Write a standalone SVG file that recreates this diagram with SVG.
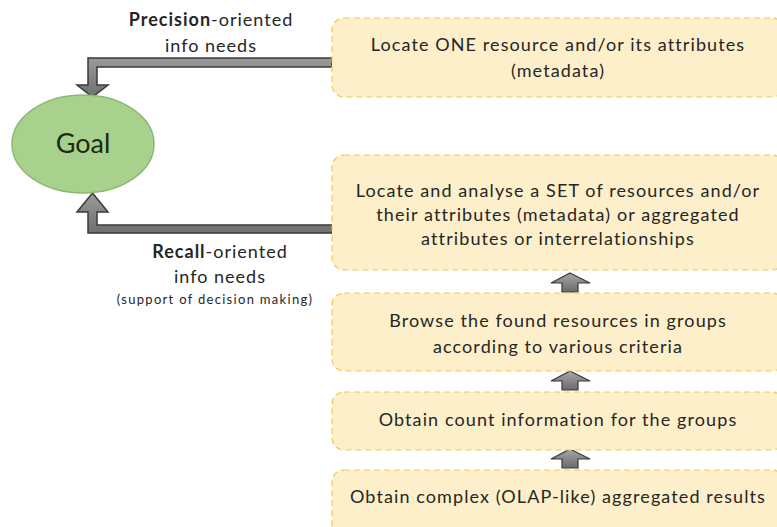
<svg xmlns="http://www.w3.org/2000/svg" width="777" height="527" viewBox="0 0 777 527">
  <style>
    .box { fill: #FDEFC9; stroke: #EFC85A; stroke-width: 1.2; stroke-dasharray: 6 4; }
    .txt { font-family: Lato, "Liberation Sans", sans-serif; font-size: 18px; letter-spacing: 1.1px; fill: #262626; text-anchor: middle; }
    .lbl { font-family: Lato, "Liberation Sans", sans-serif; font-size: 18px; letter-spacing: 1px; fill: #262626; text-anchor: middle; }
    .small { font-family: Lato, "Liberation Sans", sans-serif; font-size: 13px; letter-spacing: 1.3px; fill: #262626; text-anchor: middle; }
    .bent { fill: url(#gray); stroke: #3A3A3A; stroke-width: 1.5; stroke-linejoin: miter; }
    .up { fill: url(#grayUp); stroke: #3A3A3A; stroke-width: 1.2; }
  </style>
  <defs>
    <linearGradient id="gray" x1="0" y1="0" x2="0" y2="1">
      <stop offset="0" stop-color="#9A9A9A"/>
      <stop offset="1" stop-color="#6F6F6F"/>
    </linearGradient>
    <linearGradient id="grayUp" x1="0" y1="0" x2="0" y2="1">
      <stop offset="0" stop-color="#A8A8A8"/>
      <stop offset="1" stop-color="#6A6A6A"/>
    </linearGradient>
  </defs>
  <rect width="777" height="527" fill="#FFFFFF"/>

  <g id="connectors">
    <!-- precision-oriented path into the goal -->
    <polygon class="bent" points="332,58 88,58 88,85 77,85 92.5,97 108,85 97,85 97,67 332,67"/>
    <!-- recall-oriented path into the goal -->
    <polygon class="bent" points="92.5,193 108,212 97,212 97,225 332,225 332,233 88,233 88,212 77,212"/>
    <!-- upward steps between the task boxes -->
    <polygon class="up" points="570,273 590,283 578,283 578,292 562,292 562,283 551,283"/>
    <polygon class="up" points="570,371 590,381 578,381 578,390 562,390 562,381 551,381"/>
    <polygon class="up" points="570,449 590,459 578,459 578,468 562,468 562,459 551,459"/>
  </g>

  <g id="goal">
    <ellipse cx="83" cy="144" rx="71" ry="49" fill="#A9D18E" stroke="#8DB872" stroke-width="1.5"/>
    <text x="83" y="153" font-family="Lato, 'Liberation Sans', sans-serif" font-size="27" fill="#1E2A14" text-anchor="middle">Goal</text>
  </g>

  <g id="precision-label">
    <text class="lbl" x="211" y="26"><tspan font-weight="bold">Precision</tspan>-oriented</text>
    <text class="lbl" x="211" y="52">info needs</text>
  </g>

  <g id="recall-label">
    <text class="lbl" x="220" y="258"><tspan font-weight="bold">Recall</tspan>-oriented</text>
    <text class="lbl" x="220" y="283">info needs</text>
    <text class="small" x="215" y="304">(support of decision making)</text>
  </g>

  <g id="locate-one">
    <rect class="box" x="332" y="18" width="452" height="79" rx="12"/>
    <text class="txt" x="558" y="51">Locate ONE resource and/or its attributes</text>
    <text class="txt" x="558" y="77">(metadata)</text>
  </g>

  <g id="locate-set">
    <rect class="box" x="332" y="155" width="452" height="115" rx="12"/>
    <text class="txt" x="558" y="197">Locate and analyse a SET of resources and/or</text>
    <text class="txt" x="558" y="221">their attributes (metadata) or aggregated</text>
    <text class="txt" x="558" y="245">attributes or interrelationships</text>
  </g>

  <g id="browse">
    <rect class="box" x="332" y="293" width="452" height="78" rx="12"/>
    <text class="txt" x="558" y="327">Browse the found resources in groups</text>
    <text class="txt" x="558" y="353">according to various criteria</text>
  </g>

  <g id="count">
    <rect class="box" x="332" y="392" width="452" height="58" rx="12"/>
    <text class="txt" x="558" y="426">Obtain count information for the groups</text>
  </g>

  <g id="olap">
    <rect class="box" x="332" y="470" width="452" height="70" rx="12"/>
    <text class="txt" x="558" y="503">Obtain complex (OLAP-like) aggregated results</text>
  </g>
</svg>
